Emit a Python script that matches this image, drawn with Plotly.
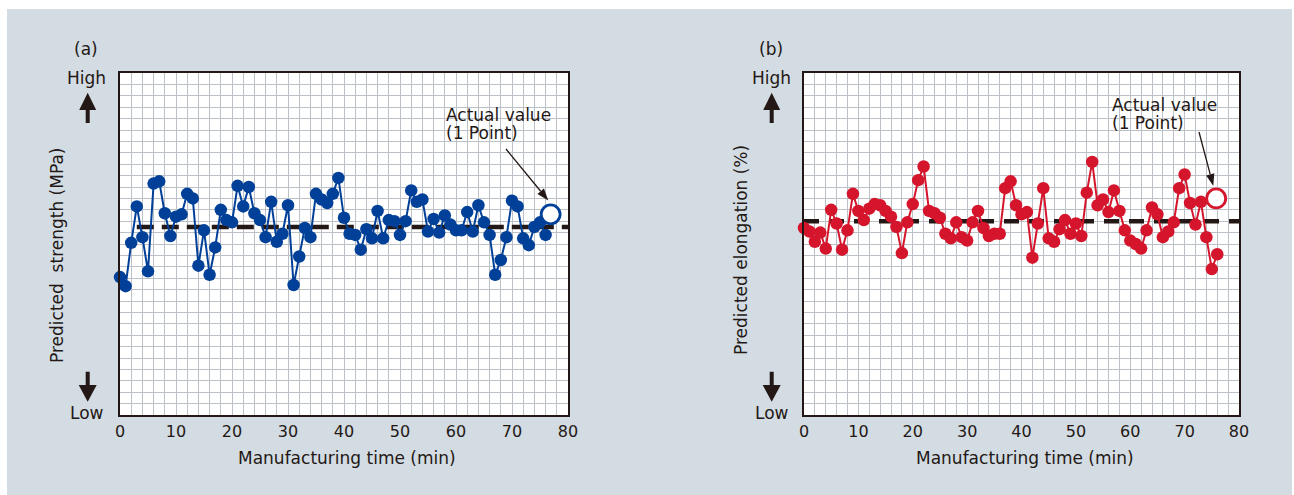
import math
import plotly.graph_objects as go

W, H = 1294, 495

# ---------------- data ----------------
time_a = list(range(0, 77))
strength = [12.1, 11.3, 15.1, 18.3, 15.6, 12.6, 20.3, 20.5, 17.7, 15.7,
            17.4, 17.6, 19.4, 19.0, 13.1, 16.2, 12.3, 14.7, 18.0, 17.1,
            16.9, 20.1, 18.3, 20.0, 17.7, 17.1, 15.6, 18.7, 15.2, 15.9,
            18.4, 11.4, 13.9, 16.4, 15.6, 19.4, 18.9, 18.6, 19.4, 20.8,
            17.3, 15.9, 15.8, 14.5, 16.3, 15.5, 17.9, 15.5, 17.1, 17.0,
            15.8, 17.0, 19.7, 18.7, 18.9, 16.1, 17.2, 16.0, 17.5, 16.7,
            16.2, 16.2, 17.8, 16.1, 18.4, 16.9, 15.8, 12.3, 13.6, 15.6,
            18.8, 18.3, 15.5, 14.9, 16.5, 16.9, 15.8]
actual_a_time = [76.9]
actual_a_value = [17.6]
target_a_time = [3, 80]
target_a_value = [16.5, 16.5]

time_b = list(range(0, 77))
elongation = [16.4, 16.1, 15.2, 16.0, 14.6, 18.0, 16.8, 14.5, 16.2, 19.4,
              17.9, 17.1, 18.1, 18.5, 18.4, 17.9, 17.4, 16.5, 14.2, 16.9,
              18.5, 20.6, 21.8, 17.9, 17.7, 17.3, 15.9, 15.5, 16.9, 15.6,
              15.3, 16.9, 17.9, 16.4, 15.7, 15.9, 15.9, 19.9, 20.5, 18.4,
              17.6, 17.8, 13.8, 16.8, 19.9, 15.5, 15.2, 16.3, 17.1, 15.9,
              16.8, 15.7, 19.5, 22.2, 18.4, 18.9, 17.8, 19.7, 17.9, 16.2,
              15.3, 15.0, 14.6, 16.2, 18.2, 17.6, 15.6, 16.1, 16.9, 19.9,
              21.1, 18.6, 16.7, 18.7, 15.6, 12.8, 14.1]
actual_b_time = [75.8]
actual_b_value = [19.0]
target_b_time = [0, 80]
target_b_value = [17.0, 17.0]

x_tick_vals = [0, 10, 20, 30, 40, 50, 60, 70, 80]
x_tick_text = ["0", "10", "20", "30", "40", "50", "60", "70", "80"]

# ---------------- styles ----------------
BG = "#d3dce3"
INK = "#231815"
GRID = "#bcc0c7"
BLUE = "#004098"
RED = "#d5152c"
FONT = "DejaVu Sans, Liberation Sans, sans-serif"


def X(px):
    return px / W


def Y(py):
    return 1 - py / H


fig = go.Figure()

# panel (a)
fig.add_trace(go.Scatter(x=target_a_time, y=target_a_value, mode="lines",
                         line=dict(color=INK, width=4.5, dash="17px,8px"),
                         xaxis="x", yaxis="y", hoverinfo="skip"))
fig.add_trace(go.Scatter(x=time_a, y=strength, mode="lines+markers",
                         line=dict(color=BLUE, width=2),
                         marker=dict(color=BLUE, size=12.5),
                         cliponaxis=False, xaxis="x", yaxis="y"))
fig.add_trace(go.Scatter(x=actual_a_time, y=actual_a_value, mode="markers",
                         marker=dict(color="white", size=19,
                                     line=dict(color=BLUE, width=2.8)),
                         cliponaxis=False, xaxis="x", yaxis="y"))

# panel (b)
fig.add_trace(go.Scatter(x=target_b_time, y=target_b_value, mode="lines",
                         line=dict(color=INK, width=4.5, dash="15px,10px"),
                         xaxis="x2", yaxis="y2", hoverinfo="skip"))
fig.add_trace(go.Scatter(x=time_b, y=elongation, mode="lines+markers",
                         line=dict(color=RED, width=2),
                         marker=dict(color=RED, size=12.5),
                         cliponaxis=False, xaxis="x2", yaxis="y2"))
fig.add_trace(go.Scatter(x=actual_b_time, y=actual_b_value, mode="markers",
                         marker=dict(color="white", size=19,
                                     line=dict(color=RED, width=2.8)),
                         cliponaxis=False, xaxis="x2", yaxis="y2"))

xaxis_common = dict(range=[0, 80], tickmode="array", tickvals=x_tick_vals,
                    ticktext=x_tick_text, showgrid=True, gridcolor=GRID,
                    gridwidth=1, showline=True, linecolor=INK, linewidth=2,
                    mirror=True, ticks="", zeroline=False, automargin=False,
                    tickfont=dict(family=FONT, size=16, color=INK),
                    ticklabelstandoff=1,
                    minor=dict(tickmode="linear", tick0=0, dtick=2,
                               showgrid=True, gridcolor=GRID, gridwidth=1))
yaxis_common = dict(range=[0, 30], dtick=1, tick0=0, showgrid=True,
                    gridcolor=GRID, gridwidth=1, showticklabels=False,
                    showline=True, linecolor=INK, linewidth=2, mirror=True,
                    ticks="", zeroline=False, automargin=False)

ydom = [Y(415), Y(73)]
fig.update_layout(
    width=W, height=H, autosize=False,
    margin=dict(l=0, r=0, t=0, b=0, pad=0, autoexpand=False),
    paper_bgcolor=BG, plot_bgcolor="white",
    showlegend=False,
    xaxis=dict(domain=[X(120), X(568)], anchor="y", **xaxis_common),
    yaxis=dict(domain=ydom, anchor="x", **yaxis_common),
    xaxis2=dict(domain=[X(804), X(1239)], anchor="y2", **xaxis_common),
    yaxis2=dict(domain=ydom, anchor="x2", **yaxis_common),
)

shapes = []
# white page edges around the grey panel
for (a, b, c, d) in [(0, 7, 0, 495), (0, 1294, 0, 9), (1292, 1294, 0, 495)]:
    shapes.append(dict(type="rect", xref="paper", yref="paper", layer="below",
                       x0=X(a), x1=X(b), y0=Y(d), y1=Y(c),
                       fillcolor="white", line=dict(width=0)))


def poly(points, color):
    d = "M " + " L ".join(f"{X(px):.6f},{Y(py):.6f}" for px, py in points) + " Z"
    return dict(type="path", xref="paper", yref="paper", path=d,
                fillcolor=color, line=dict(width=0), layer="above")


def big_arrow(cx, tip, base, end, half_head=8.5, half_shaft=2.0):
    # vertical block arrow
    return poly([(cx, tip), (cx + half_head, base), (cx + half_shaft, base),
                 (cx + half_shaft, end), (cx - half_shaft, end),
                 (cx - half_shaft, base), (cx - half_head, base)], INK)


def thin_arrow(x0, y0, x1, y1, head_len=12, head_half=4.2):
    dx, dy = x1 - x0, y1 - y0
    L = math.hypot(dx, dy)
    ux, uy = dx / L, dy / L
    bx, by = x1 - ux * head_len, y1 - uy * head_len
    px, py = -uy, ux
    out = [dict(type="line", xref="paper", yref="paper",
                x0=X(x0), y0=Y(y0), x1=X(bx), y1=Y(by),
                line=dict(color=INK, width=1.3), layer="above"),
           poly([(x1, y1), (bx + px * head_half, by + py * head_half),
                 (bx - px * head_half, by - py * head_half)], INK)]
    return out


for cx in (87.7, 771.7):
    shapes.append(big_arrow(cx, 92.7, 110, 123))
    shapes.append(big_arrow(cx, 401.7, 385, 371.7, half_head=9))

shapes += thin_arrow(506, 149, 548.3, 200.5)
shapes += thin_arrow(1199, 132, 1213.3, 186)
fig.update_layout(shapes=shapes)


def txt(s, px, py, size=17, angle=0, xanchor="center"):
    return dict(text=s, x=X(px), y=Y(py), xref="paper", yref="paper",
                showarrow=False, xanchor=xanchor, yanchor="middle",
                textangle=angle, borderpad=0,
                font=dict(family=FONT, size=size, color=INK))


ann = [
    txt("(a)", 86, 49.3),
    txt("High", 86.7, 78.3),
    txt("Low", 86.7, 412.7),
    txt("Predicted  strength (MPa)", 57, 256, angle=-90),
    txt("Manufacturing time (min)", 346.5, 458),
    txt("Actual value", 445, 115, xanchor="left"),
    txt("(1 Point)", 445, 133.3, xanchor="left"),
    txt("(b)", 770.7, 49.3),
    txt("High", 771.7, 78.3),
    txt("Low", 771.7, 412.7),
    txt("Predicted elongation (%)", 741, 250, angle=-90),
    txt("Manufacturing time (min)", 1024.5, 458),
    txt("Actual value", 1111, 105, xanchor="left"),
    txt("(1 Point)", 1111, 123.5, xanchor="left"),
]
fig.update_layout(annotations=ann)

fig.write_html("out.html", config={"responsive": False})
